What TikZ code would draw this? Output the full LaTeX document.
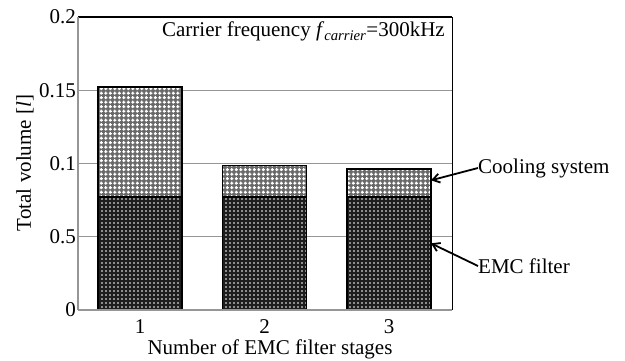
\documentclass[tikz,border=0pt]{standalone}
\usepackage{fontspec}
\setmainfont{Liberation Serif}
\usetikzlibrary{arrows.meta,patterns,positioning}
\definecolor{gridgray}{RGB}{150,150,150}
\definecolor{coolbg}{RGB}{105,105,105}
\definecolor{emcbg}{RGB}{30,30,30}
% fill patterns of the two bar parts
\pgfdeclarepatternformonly{plusdots}{\pgfqpoint{-1pt}{-1pt}}{\pgfqpoint{5.5pt}{5.5pt}}{\pgfqpoint{4.5pt}{4.5pt}}{
  \pgfpathrectangle{\pgfqpoint{1.55pt}{0.75pt}}{\pgfqpoint{1.4pt}{3pt}}
  \pgfpathrectangle{\pgfqpoint{0.75pt}{1.55pt}}{\pgfqpoint{3pt}{1.4pt}}
  \pgfusepath{fill}}
\pgfdeclarepatternformonly{whitedots}{\pgfqpoint{-1pt}{-1pt}}{\pgfqpoint{5pt}{5pt}}{\pgfqpoint{4pt}{4pt}}{
  \pgfpathcircle{\pgfqpoint{2pt}{2pt}}{0.85pt}
  \pgfusepath{fill}}
\tikzset{
  cooling/.style={draw=black, line width=1.8pt, preaction={fill=coolbg},
                  pattern=plusdots, pattern color=white},
  emc/.style={draw=black, line width=1.8pt, preaction={fill=emcbg},
              pattern=whitedots, pattern color=white},
  gridline/.style={gridgray, line width=1.1pt},
  callout/.style={-{Straight Barb[length=7pt,width=9pt]}, line width=1.8pt},
  ticklabel/.style={anchor=east, inner sep=1pt},
  every node/.style={font=\fontsize{21}{24}\selectfont}
}
\begin{document}
\begin{tikzpicture}[x=1pt, y=1pt]
\useasboundingbox (0,0) rectangle (625,361);
% plot area: x in pixels, y in litres
\begin{scope}[shift={(78,51)}, y=1465pt]
\foreach \v in {0.05,0.1,0.15}
  \draw[gridline] (0,\v) -- (374,\v);
\foreach \c/\top in {62/0.152, 186.5/0.0986, 311/0.096} {
  \draw[cooling] (\c-42,0.0774) rectangle (\c+42,\top);
  \draw[emc] (\c-42,0) rectangle (\c+42,0.0774);
}
\draw[black, line width=1.6pt] (0,0.2) -- (374,0.2);
\draw[black, line width=1pt] (374,0.2) -- (374,0);
\draw[gridgray, line width=1.3pt] (0,0.2) -- (0,0);
\draw[gridgray, line width=2pt] (0,0) -- (374,0);
\coordinate (coolpt) at (353,0.0885);
\coordinate (emcpt) at (353,0.0455);
\end{scope}
% tick labels
\foreach \y/\t in {344/0.2, 270.75/0.15, 197.5/0.1, 124.25/0.5, 51/0}
  \node[ticklabel] at (77,\y) {\t};
\foreach \x/\t in {140/1, 264.5/2, 389/3}
  \node (xt\t) at (\x,34) {\t};
\node (xtitle) at (270,12) {Number of EMC filter stages};
\node[rotate=90] (ytitle) at (25,198) {Total volume [\textit{l}]};
\node[anchor=north east, inner sep=0pt] (carrier) at (445,339)
  {Carrier frequency \textit{f}\textsubscript{\textit{carrier}}=300kHz};
% legend callouts
\node[anchor=west, inner sep=0pt] (coollab) at (478,193) {Cooling system};
\node[anchor=west, inner sep=0pt] (emclab) at (478,95) {EMC filter};
\draw[callout] (coollab.west) -- (coolpt);
\draw[callout] (emclab.west) -- (emcpt);
\end{tikzpicture}
\end{document}
